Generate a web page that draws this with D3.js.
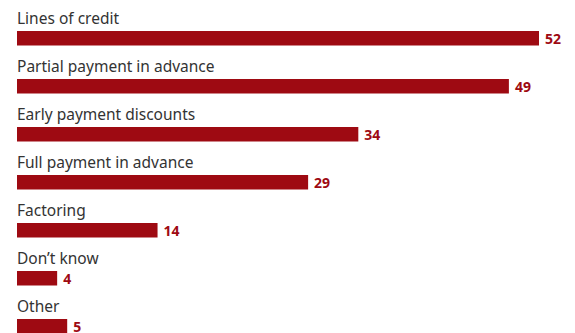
<!DOCTYPE html>
<html><head><meta charset="utf-8">
<script src="https://cdn.jsdelivr.net/npm/d3@7"></script>
<style>body{margin:0;background:#fff}svg{display:block}</style>
</head><body>
<script>
const categories = ["Lines of credit","Partial payment in advance","Early payment discounts","Full payment in advance","Factoring","Don\u2019t know","Other"];
const values = [52,49,34,29,14,4,5];

const W = 575, H = 333;
const svg = d3.select("body").append("svg").attr("width", W).attr("height", H);
const x = d3.scaleLinear().domain([0, 52]).range([17, 539]);
const y = d3.scaleBand().domain(categories).range([0, 48*7]).paddingInner(0);
const barH = 14.5;

const g = svg.selectAll("g.row").data(categories).enter().append("g")
  .attr("transform", d => `translate(0,${y(d)})`);

g.append("text").attr("x", 17).attr("y", 24)
  .attr("font-family", "Noto Sans").attr("font-size", 15.5).attr("fill", "#333")
  .text(d => d);

g.append("rect").attr("x", x(0)).attr("y", 31)
  .attr("width", (d,i) => x(values[i]) - x(0)).attr("height", barH)
  .attr("fill", "#9e0a12");

g.append("text").attr("x", (d,i) => x(values[i]) + 6).attr("y", 44)
  .attr("font-family", "Noto Sans").attr("font-weight", "bold").attr("font-size", 14)
  .attr("fill", "#9e0a12").text((d,i) => values[i]);
</script>
</body></html>
